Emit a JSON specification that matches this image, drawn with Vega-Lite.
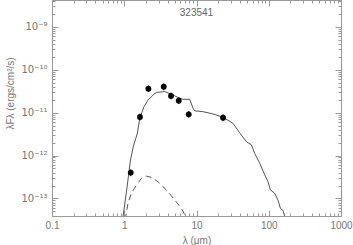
{
  "$schema": "https://vega.github.io/schema/vega-lite/v6.json",
  "width": 289,
  "height": 216,
  "autosize": {"type": "none"},
  "padding": {"left": 52, "top": 0, "right": 12, "bottom": 29},
  "background": "white",
  "title": {"text": "323541", "offset": -18, "anchor": "middle", "frame": "group", "fontSize": 10, "fontWeight": "normal", "font": "Liberation Sans", "color": "#666666"},
  "config": {
    "view": {"stroke": null},
    "axis": {"grid": false, "domainColor": "#999999", "tickColor": "#999999", "labelColor": "#777777", "titleColor": "#777777", "labelFont": "Liberation Sans, DejaVu Sans", "titleFont": "Liberation Sans, DejaVu Sans", "labelFontSize": 10, "titleFontSize": 10, "titleFontWeight": "normal", "labelFlush": false, "labelOverlap": false}
  },
  "datasets": {
    "model": [
      {"lam": 0.95, "f": 3.2e-14}, {"lam": 1.09, "f": 1.76e-13}, {"lam": 1.22, "f": 7.94e-13}, {"lam": 1.34, "f": 1.66e-12},
      {"lam": 1.52, "f": 3.31e-12}, {"lam": 1.64, "f": 7.41e-12}, {"lam": 1.88, "f": 1.38e-11}, {"lam": 2.13, "f": 1.95e-11},
      {"lam": 2.58, "f": 2.69e-11}, {"lam": 2.79, "f": 2.95e-11}, {"lam": 3.63, "f": 3.09e-11}, {"lam": 4.73, "f": 2.57e-11},
      {"lam": 5.59, "f": 2.24e-11}, {"lam": 6.5, "f": 2.04e-11}, {"lam": 8.05, "f": 2.04e-11}, {"lam": 8.96, "f": 1.26e-11},
      {"lam": 9.44, "f": 1.1e-11}, {"lam": 12.3, "f": 1.05e-11}, {"lam": 16.9, "f": 9.33e-12}, {"lam": 23.3, "f": 7.76e-12},
      {"lam": 32, "f": 5.62e-12}, {"lam": 39.6, "f": 3.39e-12}, {"lam": 49.1, "f": 2.09e-12}, {"lam": 57.5, "f": 1.78e-12},
      {"lam": 63.9, "f": 1.12e-12}, {"lam": 75, "f": 6.61e-13}, {"lam": 87.9, "f": 3.55e-13}, {"lam": 97.7, "f": 2.45e-13},
      {"lam": 105.4, "f": 1.58e-13}, {"lam": 120.8, "f": 1.32e-13}, {"lam": 134.3, "f": 9.12e-14}, {"lam": 144.9, "f": 5.89e-14},
      {"lam": 157.4, "f": 5.25e-14}, {"lam": 172, "f": 3.16e-14}
    ],
    "photo": [
      {"lam": 1.03, "f": 3.2e-14}, {"lam": 1.127, "f": 7.76e-14}, {"lam": 1.256, "f": 1.32e-13}, {"lam": 1.472, "f": 2.04e-13},
      {"lam": 1.727, "f": 2.95e-13}, {"lam": 2.03, "f": 3.31e-13}, {"lam": 2.38, "f": 3.09e-13}, {"lam": 2.93, "f": 2.45e-13},
      {"lam": 3.83, "f": 1.58e-13}, {"lam": 4.99, "f": 9.23e-14}, {"lam": 6.18, "f": 5.89e-14}, {"lam": 7.01, "f": 3.89e-14},
      {"lam": 7.3, "f": 3.16e-14}
    ],
    "obs": [
      {"lam": 1.23, "f": 4.0e-13, "lo": 3.3e-13, "hi": 4.8e-13},
      {"lam": 1.65, "f": 7.9e-12, "lo": 6.6e-12, "hi": 9.5e-12},
      {"lam": 2.16, "f": 3.6e-11, "lo": 3.0e-11, "hi": 4.3e-11},
      {"lam": 3.52, "f": 4.0e-11, "lo": 3.3e-11, "hi": 4.8e-11},
      {"lam": 4.44, "f": 2.45e-11, "lo": 2.04e-11, "hi": 2.94e-11},
      {"lam": 5.68, "f": 1.9e-11, "lo": 1.58e-11, "hi": 2.28e-11},
      {"lam": 7.8, "f": 9.1e-12, "lo": 7.6e-12, "hi": 1.09e-11},
      {"lam": 23.3, "f": 7.6e-12, "lo": 6.3e-12, "hi": 9.1e-12}
    ]
  },
  "resolve": {"axis": {"x": "independent", "y": "independent"}},
  "layer": [
    {
      "data": {"name": "model"},
      "mark": {"type": "line", "color": "#555555", "strokeWidth": 1, "clip": true, "interpolate": "linear"},
      "encoding": {
        "x": {"field": "lam", "type": "quantitative", "sort": null,
          "scale": {"type": "log", "domain": [0.1, 1000], "nice": false},
          "axis": {"orient": "bottom", "values": [0.1, 1, 10, 100, 1000], "tickSize": -6, "labelPadding": 10, "labelBaseline": "top",
            "labelExpr": "datum.value < 0.5 ? '0.1' : format(datum.value, 'd')", "title": "λ (μm)", "titleY": 24, "titleBaseline": "middle"}},
        "y": {"field": "f", "type": "quantitative",
          "scale": {"type": "log", "domain": [3.9e-14, 4.2e-9], "nice": false},
          "axis": {"orient": "left", "values": [1e-13, 1e-12, 1e-11, 1e-10, 1e-9], "tickSize": -6, "labelPadding": 11, "labelFontSize": 10, "labelFont": "DejaVu Sans",
            "labelExpr": "datum.value > 5e-10 ? '10⁻⁹' : datum.value > 5e-11 ? '10⁻¹⁰' : datum.value > 5e-12 ? '10⁻¹¹' : datum.value > 5e-13 ? '10⁻¹²' : '10⁻¹³'",
            "title": "λFλ (ergs/cm²/s)", "titleFontSize": 10, "titleX": -42, "titleY": 93, "titleAngle": 270, "titleAlign": "center", "titleBaseline": "middle"}}
      }
    },
    {
      "data": {"name": "photo"},
      "mark": {"type": "line", "color": "#555555", "strokeWidth": 1, "strokeDash": [6, 4], "clip": true},
      "encoding": {
        "x": {"field": "lam", "type": "quantitative", "sort": null,
          "scale": {"type": "log", "domain": [0.1, 1000], "nice": false},
          "axis": {"orient": "top", "values": [0.1, 1, 10, 100, 1000], "tickSize": -6, "labels": false, "title": null}},
        "y": {"field": "f", "type": "quantitative",
          "scale": {"type": "log", "domain": [3.9e-14, 4.2e-9], "nice": false},
          "axis": {"orient": "right", "values": [1e-13, 1e-12, 1e-11, 1e-10, 1e-9], "tickSize": -6, "labels": false, "title": null}}
      }
    },
    {
      "data": {"name": "obs"},
      "mark": {"type": "rule", "color": "black", "strokeWidth": 1, "clip": true},
      "encoding": {
        "x": {"field": "lam", "type": "quantitative",
          "scale": {"type": "log", "domain": [0.1, 1000], "nice": false},
          "axis": {"orient": "bottom", "values": [0.2, 0.3, 0.4, 0.5, 0.6, 0.7, 0.8, 0.9, 2, 3, 4, 5, 6, 7, 8, 9, 20, 30, 40, 50, 60, 70, 80, 90, 200, 300, 400, 500, 600, 700, 800, 900], "tickSize": -3, "labels": false, "domain": false, "title": null}},
        "y": {"field": "lo", "type": "quantitative",
          "scale": {"type": "log", "domain": [3.9e-14, 4.2e-9], "nice": false},
          "axis": {"orient": "left", "values": [4e-14, 5e-14, 6e-14, 7e-14, 8e-14, 9e-14, 2e-13, 3e-13, 4e-13, 5e-13, 6e-13, 7e-13, 8e-13, 9e-13, 2e-12, 3e-12, 4e-12, 5e-12, 6e-12, 7e-12, 8e-12, 9e-12, 2e-11, 3e-11, 4e-11, 5e-11, 6e-11, 7e-11, 8e-11, 9e-11, 2e-10, 3e-10, 4e-10, 5e-10, 6e-10, 7e-10, 8e-10, 9e-10, 2e-9, 3e-9, 4e-9], "tickSize": -3, "labels": false, "domain": false, "title": null}},
        "y2": {"field": "hi"}
      }
    },
    {
      "data": {"name": "obs"},
      "mark": {"type": "point", "shape": "circle", "filled": true, "color": "black", "opacity": 1, "size": 34},
      "encoding": {
        "x": {"field": "lam", "type": "quantitative",
          "scale": {"type": "log", "domain": [0.1, 1000], "nice": false},
          "axis": {"orient": "top", "values": [0.2, 0.3, 0.4, 0.5, 0.6, 0.7, 0.8, 0.9, 2, 3, 4, 5, 6, 7, 8, 9, 20, 30, 40, 50, 60, 70, 80, 90, 200, 300, 400, 500, 600, 700, 800, 900], "tickSize": -3, "labels": false, "domain": false, "title": null}},
        "y": {"field": "f", "type": "quantitative",
          "scale": {"type": "log", "domain": [3.9e-14, 4.2e-9], "nice": false},
          "axis": {"orient": "right", "values": [4e-14, 5e-14, 6e-14, 7e-14, 8e-14, 9e-14, 2e-13, 3e-13, 4e-13, 5e-13, 6e-13, 7e-13, 8e-13, 9e-13, 2e-12, 3e-12, 4e-12, 5e-12, 6e-12, 7e-12, 8e-12, 9e-12, 2e-11, 3e-11, 4e-11, 5e-11, 6e-11, 7e-11, 8e-11, 9e-11, 2e-10, 3e-10, 4e-10, 5e-10, 6e-10, 7e-10, 8e-10, 9e-10, 2e-9, 3e-9, 4e-9], "tickSize": -3, "labels": false, "domain": false, "title": null}}
      }
    }
  ]
}
